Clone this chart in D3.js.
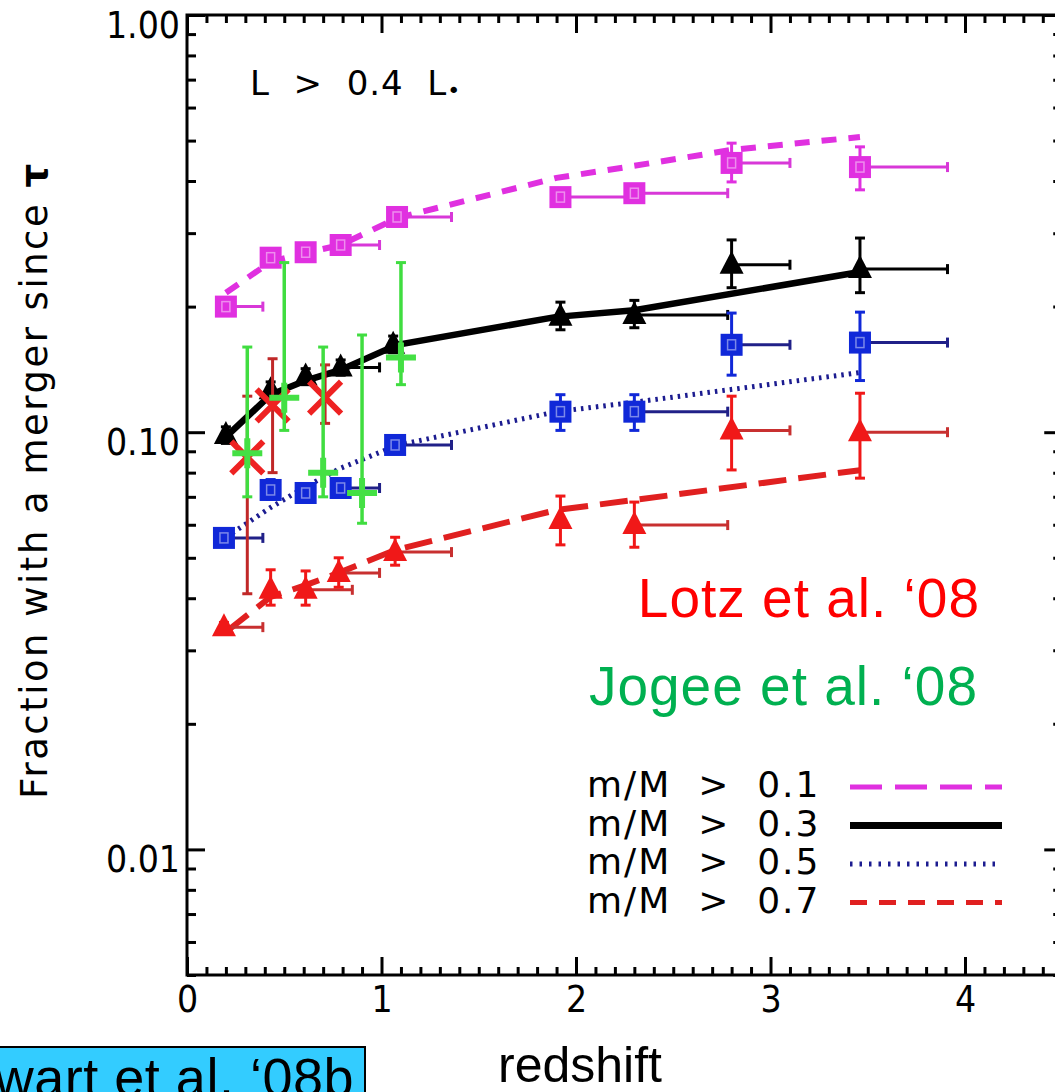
<!DOCTYPE html>
<html>
<head>
<meta charset="utf-8">
<script src="https://cdn.jsdelivr.net/npm/d3@7"></script>
<style>
  body { margin: 0; background: #fff; }
  svg { display: block; }
</style>
</head>
<body>
<svg id="chart" width="1055" height="1092"></svg>
<script>
// ===== Data: model curves (Stewart et al. '08b) =====
const modelZ01 = [0.2, 0.43, 0.61, 0.79, 1.08, 1.9, 2.3, 2.8, 3.46];
const modelF01 = [0.216, 0.256, 0.269, 0.281, 0.326, 0.407, 0.435, 0.475, 0.51];
const modelZ03 = [0.2, 0.43, 0.61, 0.79, 1.08, 1.9, 2.3, 3.46];
const modelF03 = [0.0974, 0.123, 0.133, 0.141, 0.162, 0.189, 0.196, 0.242];
const modelZ05 = [0.2, 0.43, 0.61, 0.79, 1.08, 1.9, 2.3, 3.46];
const modelF05 = [0.056, 0.066, 0.074, 0.082, 0.093, 0.112, 0.118, 0.139];
const modelZ07 = [0.2, 0.43, 0.61, 0.78, 1.07, 1.9, 2.3, 3.46];
const modelF07 = [0.0332, 0.0403, 0.043, 0.046, 0.0522, 0.0651, 0.0688, 0.0811];

// ===== Data: binned points (z, fraction, right end of bin, error low/high) =====
const sq01Z    = [0.2, 0.43, 0.61, 0.79, 1.08, 1.92, 2.3, 2.8, 3.46];
const sq01F    = [0.200, 0.262, 0.270, 0.281, 0.328, 0.366, 0.374, 0.442, 0.432];
const sq01ZEnd = [0.39, 0.43, 0.61, 0.99, 1.36, 2.3, 2.78, 3.1, 3.91];
const sq01Lo   = [0.194, 0.254, 0.262, 0.273, 0.318, 0.355, 0.363, 0.398, 0.381];
const sq01Hi   = [0.206, 0.270, 0.278, 0.289, 0.338, 0.377, 0.385, 0.493, 0.483];

const tri03Z    = [0.2, 0.43, 0.61, 0.79, 1.06, 1.92, 2.3, 2.8, 3.46];
const tri03F    = [0.0985, 0.126, 0.136, 0.143, 0.162, 0.189, 0.191, 0.252, 0.246];
const tri03ZEnd = [0.2, 0.43, 0.61, 0.99, 1.06, 1.92, 2.78, 3.1, 3.91];
const tri03Lo   = [0.094, 0.12, 0.13, 0.137, 0.155, 0.176, 0.178, 0.222, 0.216];
const tri03Hi   = [0.103, 0.132, 0.142, 0.149, 0.17, 0.205, 0.207, 0.289, 0.292];

const sq05Z    = [0.19, 0.43, 0.61, 0.79, 1.07, 1.92, 2.3, 2.8, 3.46];
const sq05F    = [0.0558, 0.0727, 0.0715, 0.0735, 0.0932, 0.112, 0.112, 0.162, 0.164];
const sq05ZEnd = [0.39, 0.43, 0.61, 0.99, 1.36, 1.92, 2.78, 3.1, 3.91];
const sq05Lo   = [0.054, 0.069, 0.068, 0.07, 0.089, 0.101, 0.101, 0.137, 0.133];
const sq05Hi   = [0.058, 0.077, 0.075, 0.077, 0.097, 0.123, 0.123, 0.193, 0.194];

const tri07Z    = [0.19, 0.43, 0.61, 0.78, 1.07, 1.92, 2.3, 2.8, 3.46];
const tri07F    = [0.0341, 0.0419, 0.0419, 0.046, 0.0516, 0.0616, 0.0599, 0.101, 0.100];
const tri07ZEnd = [0.39, 0.43, 0.85, 0.99, 1.36, 1.92, 2.78, 3.1, 3.91];
const tri07Lo   = [0.033, 0.0385, 0.0385, 0.0425, 0.048, 0.0537, 0.053, 0.0812, 0.0776];
const tri07Hi   = [0.035, 0.0468, 0.0465, 0.050, 0.056, 0.0703, 0.068, 0.122, 0.124];

// ===== Data: observations =====
const lotzZ  = [0.31, 0.44, 0.71];
const lotzF  = [0.087, 0.116, 0.121];
const lotzLo = [0.041, 0.080, 0.105];
const lotzHi = [0.122, 0.15, 0.145];

const jogeeZ  = [0.31, 0.50, 0.70, 0.90, 1.10];
const jogeeF  = [0.089, 0.121, 0.080, 0.0715, 0.151];
const jogeeLo = [0.070, 0.101, 0.070, 0.0605, 0.130];
const jogeeHi = [0.160, 0.255, 0.160, 0.171, 0.255];

// ===== Axis ticks and legend =====
const xMajor = [0, 1, 2, 3, 4];
const yMajor = [0.01, 0.1, 1];
const legendLabels = ["m/M  >  0.1", "m/M  >  0.3", "m/M  >  0.5", "m/M  >  0.7"];

// ===== Layout =====
const svg = d3.select("#chart");
const plotLeft = 187, plotTop = 15, plotBottom = 975;
const x = d3.scaleLinear().domain([0, 4.5]).range([plotLeft, plotLeft + 4.5 * 194.5]);
const y = d3.scaleLog().domain([0.005, 1]).range([plotBottom, plotTop]);
const plotRight = x(4.5);

const xMinor = d3.range(1, 45).map(i => i / 10).filter(v => Math.abs(v - Math.round(v)) > 1e-6);
const yMinor = [];
[0.001, 0.01, 0.1].forEach(dec => d3.range(2, 10).forEach(k => {
  const v = dec * k;
  if (v > 0.0049 && v < 1) yMinor.push(v);
}));

const zip = (zs, fs) => zs.map((z, i) => ({ z, f: fs[i] }));
const pts = (zs, fs, ze, lo, hi) => zs.map((z, i) => ({ z, f: fs[i], ze: ze[i], lo: lo[i], hi: hi[i] }));

const tickFont = "'DejaVu Sans Condensed', 'DejaVu Sans', sans-serif";
const pptFont = "'Liberation Sans', Arial, sans-serif";

// ===== Axes (ticks on all four sides, pointing inwards) =====
function styleAxis(sel) {
  sel.select(".domain").remove();
  sel.selectAll("line").attr("stroke", "#000").attr("stroke-width", 3);
  sel.selectAll("text").attr("fill", "#000").style("font-family", tickFont).style("font-size", "37px");
}

svg.append("g").attr("transform", `translate(0,${plotBottom})`)
  .call(d3.axisBottom(x).tickValues(xMinor).tickSize(-8).tickFormat("")).call(styleAxis);
svg.append("g").attr("transform", `translate(0,${plotBottom})`)
  .call(d3.axisBottom(x).tickValues(xMajor).tickSize(-18).tickPadding(11).tickFormat(d3.format("d"))).call(styleAxis);
svg.append("g").attr("transform", `translate(0,${plotTop})`)
  .call(d3.axisTop(x).tickValues(xMinor).tickSize(-8).tickFormat("")).call(styleAxis);
svg.append("g").attr("transform", `translate(0,${plotTop})`)
  .call(d3.axisTop(x).tickValues(xMajor).tickSize(-18).tickFormat("")).call(styleAxis);

svg.append("g").attr("transform", `translate(${plotLeft},0)`)
  .call(d3.axisLeft(y).tickValues(yMinor).tickSize(-9).tickFormat("")).call(styleAxis);
const yLab = svg.append("g").attr("transform", `translate(${plotLeft},0)`)
  .call(d3.axisLeft(y).tickValues(yMajor).tickSize(-18).tickPadding(7).tickFormat(d3.format(".2f"))).call(styleAxis);
yLab.selectAll("text").attr("dy", "0.6em");
svg.append("g").attr("transform", `translate(${plotRight},0)`)
  .call(d3.axisRight(y).tickValues(yMinor).tickSize(-9).tickFormat("")).call(styleAxis);
svg.append("g").attr("transform", `translate(${plotRight},0)`)
  .call(d3.axisRight(y).tickValues(yMajor).tickSize(-18).tickFormat("")).call(styleAxis);

svg.append("rect")
  .attr("x", plotLeft).attr("y", plotTop)
  .attr("width", plotRight - plotLeft).attr("height", plotBottom - plotTop)
  .attr("fill", "none").attr("stroke", "#000").attr("stroke-width", 3);

// axis titles
svg.append("text")
  .attr("transform", `translate(47,480) rotate(-90)`)
  .attr("text-anchor", "middle")
  .style("font-family", "'DejaVu Sans', sans-serif")
  .style("font-size", "37px")
  .style("letter-spacing", "2.5px")
  .text("Fraction with a merger since ")
  .append("tspan").attr("font-weight", "bold").text("τ");

svg.append("text")
  .attr("x", 580).attr("y", 1082)
  .attr("text-anchor", "middle")
  .style("font-family", pptFont)
  .style("font-size", "50px")
  .text("redshift");

// L > 0.4 L*
const lText = svg.append("text")
  .attr("x", 250).attr("y", 95)
  .style("font-family", "'DejaVu Sans', sans-serif")
  .style("font-size", "34px")
  .style("letter-spacing", "1px")
  .style("white-space", "pre")
  .text("L  >  0.4  L");
lText.append("tspan").attr("dy", 3).style("font-size", "22px").text("•");

// ===== Model curves =====
const line = d3.line().x(d => x(d.z)).y(d => y(d.f));
const models = [
  { data: zip(modelZ01, modelF01), color: "#e030e0", width: 6, dash: "15,12" },
  { data: zip(modelZ03, modelF03), color: "#000000", width: 6.5, dash: null },
  { data: zip(modelZ05, modelF05), color: "#1c1c90", width: 5, dash: "2.5,5" },
  { data: zip(modelZ07, modelF07), color: "#e02020", width: 6, dash: "28,12" }
];
models.forEach(m => {
  svg.append("path")
    .datum(m.data)
    .attr("fill", "none")
    .attr("stroke", m.color)
    .attr("stroke-width", m.width)
    .attr("stroke-dasharray", m.dash)
    .attr("d", line);
});

// ===== Binned points with error bars =====
function drawBins(data, fill, barColor, shape) {
  const grp = svg.append("g");
  data.forEach(d => {
    const cx = x(d.z), cy = y(d.f);
    // horizontal bar to the right end of the bin
    if (d.ze > d.z + 0.01) {
      grp.append("line").attr("x1", cx).attr("x2", x(d.ze)).attr("y1", cy).attr("y2", cy)
        .attr("stroke", barColor).attr("stroke-width", 3);
      grp.append("line").attr("x1", x(d.ze)).attr("x2", x(d.ze)).attr("y1", cy - 5).attr("y2", cy + 5)
        .attr("stroke", barColor).attr("stroke-width", 3);
    }
    // vertical error
    grp.append("line").attr("x1", cx).attr("x2", cx).attr("y1", y(d.lo)).attr("y2", y(d.hi))
      .attr("stroke", fill).attr("stroke-width", 3);
    [d.lo, d.hi].forEach(v => grp.append("line")
      .attr("x1", cx - 5).attr("x2", cx + 5).attr("y1", y(v)).attr("y2", y(v))
      .attr("stroke", fill).attr("stroke-width", 3));
    if (shape === "square") {
      grp.append("rect").attr("x", cx - 11).attr("y", cy - 11).attr("width", 22).attr("height", 22)
        .attr("fill", fill);
      grp.append("rect").attr("x", cx - 4).attr("y", cy - 5).attr("width", 8).attr("height", 10)
        .attr("fill", "none").attr("stroke", "#fff").attr("stroke-opacity", 0.45).attr("stroke-width", 1.5);
    } else {
      grp.append("path")
        .attr("d", `M${cx},${cy - 14}L${cx + 12},${cy + 9}L${cx - 12},${cy + 9}Z`)
        .attr("fill", fill);
    }
  });
}

drawBins(pts(sq01Z, sq01F, sq01ZEnd, sq01Lo, sq01Hi), "#e030e0", "#d838d8", "square");
drawBins(pts(tri03Z, tri03F, tri03ZEnd, tri03Lo, tri03Hi), "#000000", "#000000", "triangle");
drawBins(pts(sq05Z, sq05F, sq05ZEnd, sq05Lo, sq05Hi), "#1028d8", "#202088", "square");
drawBins(pts(tri07Z, tri07F, tri07ZEnd, tri07Lo, tri07Hi), "#f01818", "#c83030", "triangle");

// ===== Lotz et al. '08 (crosses) =====
const lotz = svg.append("g");
lotzZ.forEach((z, i) => {
  const cx = x(z), cy = y(lotzF[i]);
  lotz.append("line").attr("x1", cx).attr("x2", cx).attr("y1", y(lotzLo[i])).attr("y2", y(lotzHi[i]))
    .attr("stroke", "#c02828").attr("stroke-width", 3);
  [lotzLo[i], lotzHi[i]].forEach(v => lotz.append("line")
    .attr("x1", cx - 5).attr("x2", cx + 5).attr("y1", y(v)).attr("y2", y(v))
    .attr("stroke", "#c02828").attr("stroke-width", 3));
  lotz.append("path")
    .attr("d", `M${cx - 16},${cy - 16}L${cx + 16},${cy + 16}M${cx - 16},${cy + 16}L${cx + 16},${cy - 16}`)
    .attr("stroke", "#ee2222").attr("stroke-width", 6).attr("fill", "none");
});

// ===== Jogee et al. '08 (plus signs) =====
const jogee = svg.append("g");
jogeeZ.forEach((z, i) => {
  const cx = x(z), cy = y(jogeeF[i]);
  jogee.append("line").attr("x1", cx).attr("x2", cx).attr("y1", y(jogeeLo[i])).attr("y2", y(jogeeHi[i]))
    .attr("stroke", "#40dd40").attr("stroke-width", 3.5);
  [jogeeLo[i], jogeeHi[i]].forEach(v => jogee.append("line")
    .attr("x1", cx - 5).attr("x2", cx + 5).attr("y1", y(v)).attr("y2", y(v))
    .attr("stroke", "#40dd40").attr("stroke-width", 3));
  jogee.append("path")
    .attr("d", `M${cx - 15},${cy}L${cx + 15},${cy}M${cx},${cy - 15}L${cx},${cy + 15}`)
    .attr("stroke", "#44e044").attr("stroke-width", 6).attr("fill", "none");
});

// ===== Legend =====
const leg = svg.append("g");
legendLabels.forEach((lab, i) => {
  const base = 797 + i * 38.5;
  leg.append("text")
    .attr("x", 587).attr("y", base)
    .style("font-family", "'DejaVu Sans', sans-serif")
    .style("font-size", "36px")
    .style("letter-spacing", "2px")
    .style("white-space", "pre")
    .text(lab);
  const m = models[i];
  leg.append("line")
    .attr("x1", 850).attr("x2", 1002)
    .attr("y1", base - 10).attr("y2", base - 10)
    .attr("stroke", m.color)
    .attr("stroke-width", i === 1 ? 7 : 5)
    .attr("stroke-dasharray", ["32,13", null, "2.5,7", "17,12"][i]);
});

// ===== Annotations =====
svg.append("text")
  .attr("x", 980).attr("y", 617)
  .attr("text-anchor", "end")
  .attr("fill", "#ff0000")
  .style("font-family", pptFont)
  .style("font-size", "55px")
  .style("letter-spacing", "1px")
  .text("Lotz et al. ‘08");
svg.append("text")
  .attr("x", 978).attr("y", 705)
  .attr("text-anchor", "end")
  .attr("fill", "#00b050")
  .style("font-family", pptFont)
  .style("font-size", "55px")
  .style("letter-spacing", "1px")
  .text("Jogee et al. ‘08");

svg.append("rect")
  .attr("x", -3).attr("y", 1047).attr("width", 368).attr("height", 60)
  .attr("fill", "#33ccff").attr("stroke", "#000").attr("stroke-width", 2);
svg.append("text")
  .attr("x", 354).attr("y", 1096)
  .attr("text-anchor", "end")
  .style("font-family", pptFont)
  .style("font-size", "54px")
  .style("letter-spacing", "0.5px")
  .text("Stewart et al. ‘08b");
</script>
</body>
</html>
